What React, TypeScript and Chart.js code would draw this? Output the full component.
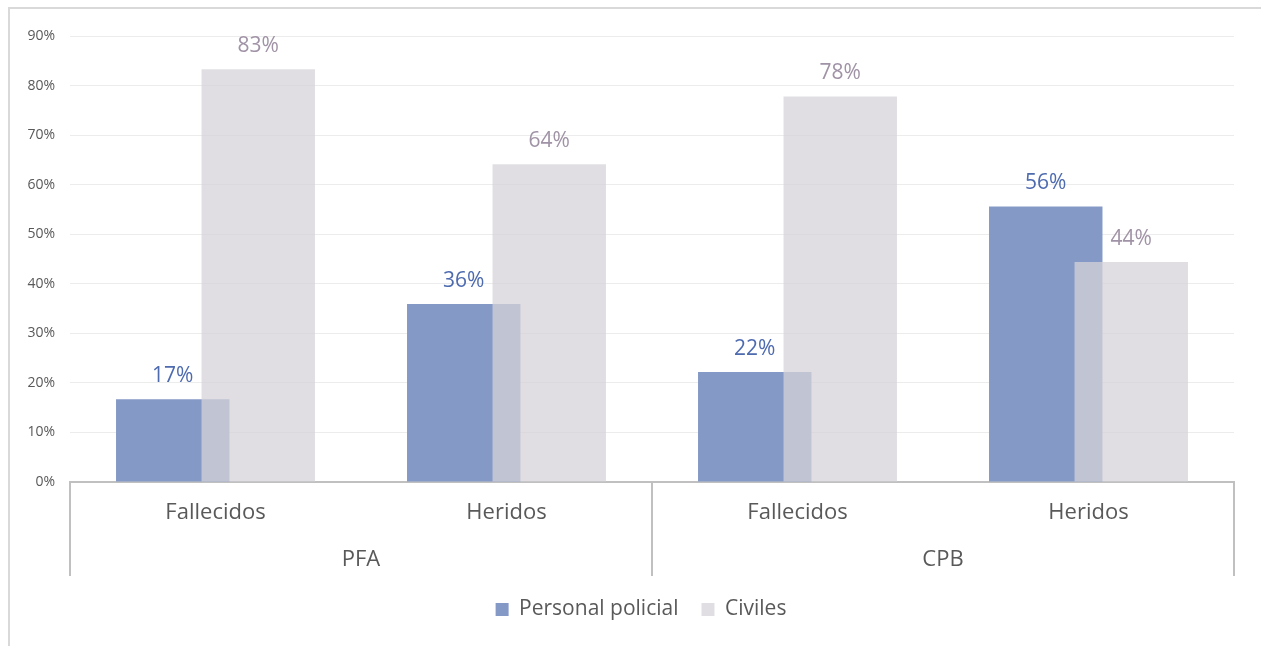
import { useEffect, useRef } from 'react';
import { Chart, registerables } from 'chart.js';

Chart.register(...registerables);

const categories = ['Fallecidos', 'Heridos', 'Fallecidos', 'Heridos'];
const groups = ['PFA', 'CPB'];
const personalPolicial = [16.7, 35.9, 22.2, 55.6];
const civiles = [83.3, 64.1, 77.8, 44.4];
const seriesNames = ['Personal policial', 'Civiles'];
const yMax = 90;
const yStep = 10;

const FONT = "'Open Sans', 'Noto Sans', sans-serif";
const TEXT = '#595959';
const BLUE = '#8599c6';
const GREY = 'rgba(213,210,216,0.74)';
const LABEL_COLORS = ['#4e6bb0', '#a093a6'];

const drawOrderPlugin = {
  id: 'drawOrder',
  beforeDatasetDraw(_chart: any, args: any) {
    if (args.index === 1) return false;
    return true;
  },
  afterDatasetsDraw(chart: any) {
    const meta = chart.getDatasetMeta(1);
    if (meta && !meta.hidden) meta.controller.draw();
  },
};

const legendShiftPlugin = {
  id: 'legendShift',
  afterLayout(chart: any) {
    const lg = chart.legend;
    if (lg) {
      lg.left += 24;
      lg.right += 24;
    }
  },
};

const valueLabelPlugin = {
  id: 'valueLabels',
  afterDatasetsDraw(chart: any) {
    const ctx = chart.ctx;
    ctx.save();
    ctx.font = `21px ${FONT}`;
    ctx.textAlign = 'center';
    ctx.textBaseline = 'middle';
    chart.data.datasets.forEach((ds: any, di: number) => {
      const meta = chart.getDatasetMeta(di);
      if (meta.hidden) return;
      ctx.fillStyle = LABEL_COLORS[di];
      meta.data.forEach((el: any, i: number) => {
        const v = ds.data[i];
        ctx.fillText(Math.round(v) + '%', el.x, el.y - 23);
      });
    });
    ctx.restore();
  },
};

const separatorPlugin = {
  id: 'separators',
  afterDraw(chart: any) {
    const ctx = chart.ctx;
    const area = chart.chartArea;
    const x2 = chart.scales.x2;
    const bottom = x2.bottom;
    const xs = [area.left, (area.left + area.right) / 2, area.right];
    ctx.save();
    ctx.strokeStyle = '#c0c0c0';
    ctx.lineWidth = 2;
    xs.forEach((x) => {
      ctx.beginPath();
      ctx.moveTo(x, area.bottom);
      ctx.lineTo(x, bottom);
      ctx.stroke();
    });
    ctx.restore();
  },
};

export default function App() {
  const ref = useRef<HTMLCanvasElement>(null);

  useEffect(() => {
    const chart = new Chart(ref.current as HTMLCanvasElement, {
      type: 'bar',
      data: {
        labels: categories,
        datasets: [
          {
            label: seriesNames[0],
            data: personalPolicial,
            backgroundColor: BLUE,
            borderWidth: 0,
            categoryPercentage: 0.5876,
            barPercentage: 1.327,
          },
          {
            label: seriesNames[1],
            data: civiles,
            backgroundColor: GREY,
            borderWidth: 0,
            categoryPercentage: 0.5876,
            barPercentage: 1.327,
          },
        ],
      },
      options: {
        responsive: false,
        animation: false,
        events: [],
        layout: { padding: { top: 36, left: 0, right: 27, bottom: 16 } },
        plugins: {
          tooltip: { enabled: false },
          legend: {
            position: 'bottom',
            labels: {
              boxWidth: 13,
              boxHeight: 13,
              padding: 23,
              color: TEXT,
              font: { family: FONT, size: 21 },
            },
          },
        },
        scales: {
          x: {
            type: 'category',
            position: 'bottom',
            grid: { display: false, drawTicks: false },
            border: { display: true, color: '#c0c0c0', width: 2 },
            ticks: {
              color: TEXT,
              font: { family: FONT, size: 22 },
              padding: 18,
              maxRotation: 0,
              autoSkip: false,
            },
            afterFit: (s: any) => {
              s.height = 56;
            },
          },
          x2: {
            type: 'category',
            position: 'bottom',
            weight: 1,
            labels: groups,
            offset: true,
            grid: { display: false, drawTicks: false },
            border: { display: false },
            ticks: {
              color: TEXT,
              font: { family: FONT, size: 22 },
              padding: 9,
              maxRotation: 0,
              autoSkip: false,
            },
            afterFit: (s: any) => {
              s.height = 38;
            },
          },
          y: {
            min: 0,
            max: yMax,
            ticks: {
              stepSize: yStep,
              color: TEXT,
              padding: 15,
              font: { family: FONT, size: 14 },
              callback: (v: any) => v + '%',
            },
            grid: { color: '#ececec', lineWidth: 1, drawTicks: false },
            border: { display: false },
            afterFit: (s: any) => {
              s.width = 70;
            },
          },
        },
      } as any,
      plugins: [drawOrderPlugin, legendShiftPlugin, valueLabelPlugin, separatorPlugin],
    });
    return () => chart.destroy();
  }, []);

  return (
    <div>
      <div
        style={{
          position: 'fixed',
          left: 8,
          top: 7,
          width: 1253,
          height: 639,
          borderTop: '2px solid #d9d9d9',
          borderLeft: '2px solid #d9d9d9',
          boxSizing: 'border-box',
        }}
      />
      <canvas
        ref={ref}
        width={1261}
        height={646}
        style={{ position: 'fixed', left: 0, top: 0, width: 1261, height: 646 }}
      />
    </div>
  );
}
